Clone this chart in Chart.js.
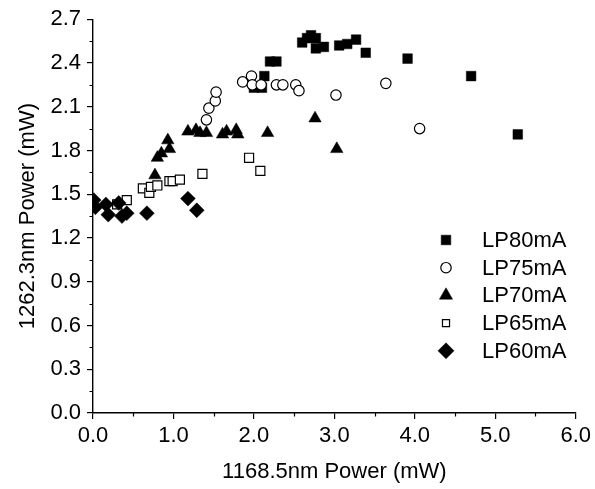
<!DOCTYPE html>
<html>
<head>
<meta charset="utf-8">
<script src="https://cdn.jsdelivr.net/npm/chart.js@4"></script>
<style>
  html, body { margin: 0; padding: 0; background: #fff; }
  #wrap { width: 595px; height: 489px; position: relative; }
</style>
</head>
<body>
<div id="wrap"><canvas id="c"></canvas></div>
<script>
// ── Data ─────────────────────────────────────────────────────
const seriesNames = ["LP80mA", "LP75mA", "LP70mA", "LP65mA", "LP60mA"];

const lp80X = [2.00, 2.10, 2.13, 2.20, 2.28, 2.60, 2.66, 2.71, 2.77, 2.77, 2.87, 3.06, 3.16, 3.27, 3.39, 3.91, 4.70, 5.28];
const lp80Y = [2.23, 2.23, 2.31, 2.41, 2.41, 2.54, 2.57, 2.59, 2.57, 2.50, 2.51, 2.52, 2.53, 2.56, 2.47, 2.43, 2.31, 1.91];

const lp75X = [1.41, 1.44, 1.52, 1.53, 1.86, 1.97, 1.98, 2.09, 2.28, 2.36, 2.52, 2.56, 3.02, 3.64, 4.06];
const lp75Y = [2.01, 2.09, 2.14, 2.20, 2.27, 2.31, 2.25, 2.25, 2.25, 2.25, 2.25, 2.21, 2.18, 2.26, 1.95];

const lp70X = [0.77, 0.80, 0.85, 0.93, 0.95, 1.18, 1.28, 1.33, 1.41, 1.61, 1.66, 1.78, 1.80, 2.17, 2.76, 3.03];
const lp70Y = [1.63, 1.75, 1.78, 1.87, 1.81, 1.93, 1.94, 1.92, 1.92, 1.91, 1.93, 1.94, 1.91, 1.92, 2.02, 1.81];

const lp65X = [0.30, 0.42, 0.62, 0.70, 0.72, 0.80, 0.95, 0.99, 1.08, 1.36, 1.94, 2.08];
const lp65Y = [1.43, 1.46, 1.54, 1.51, 1.55, 1.56, 1.59, 1.59, 1.60, 1.64, 1.75, 1.66];

const lp60X = [0.01, 0.03, 0.16, 0.19, 0.32, 0.36, 0.42, 0.67, 1.18, 1.29];
const lp60Y = [1.46, 1.41, 1.43, 1.36, 1.44, 1.35, 1.37, 1.37, 1.47, 1.39];

const xTicks = [0, 1, 2, 3, 4, 5, 6];
const yTicks = [0, 0.3, 0.6, 0.9, 1.2, 1.5, 1.8, 2.1, 2.4, 2.7];

const FONT = "'Liberation Sans', Arial, sans-serif";

const pairs = (xs, ys) => xs.map((x, i) => ({ x, y: ys[i] }));

// marker style per series: [pointStyle, radius, filled, legend radius]
const markers = [
  ["rect",     6.8, true,  6.8],
  ["circle",   5.2, false, 5.2],
  ["triangle", 7.2, true,  7.6],
  ["rect",     6.4, false, 5.0],
  ["rectRot",  7.4, true,  8.0],
];
const allData = [
  pairs(lp80X, lp80Y), pairs(lp75X, lp75Y), pairs(lp70X, lp70Y),
  pairs(lp65X, lp65Y), pairs(lp60X, lp60Y),
];

const datasets = seriesNames.map((name, i) => {
  const [style, r, filled] = markers[i];
  return {
    label: name,
    data: allData[i],
    pointStyle: style,
    pointRadius: r,
    pointHoverRadius: r,
    backgroundColor: filled ? "#000" : "#fff",
    borderColor: "#000",
    pointBorderWidth: filled ? 0.5 : 1.2,
    order: seriesNames.length - i,   // later series drawn on top
  };
});

// ── Minor ticks (half steps, shorter) ───────────────────────
const minorTicks = {
  id: "minorTicks",
  afterDraw(chart) {
    const { ctx, scales: { x, y } } = chart;
    ctx.save();
    ctx.strokeStyle = "#000";
    ctx.lineWidth = 1.2;
    ctx.beginPath();
    for (let i = 0; i < xTicks.length - 1; i++) {
      const px = Math.round(x.getPixelForValue((xTicks[i] + xTicks[i + 1]) / 2)) + 0.5;
      ctx.moveTo(px, y.bottom);
      ctx.lineTo(px, y.bottom + 3.5);
    }
    for (let i = 0; i < yTicks.length - 1; i++) {
      const py = Math.round(y.getPixelForValue((yTicks[i] + yTicks[i + 1]) / 2)) + 0.5;
      ctx.moveTo(x.left, py);
      ctx.lineTo(x.left - 3.5, py);
    }
    ctx.stroke();
    ctx.restore();
  },
};

// ── Legend inside the plot area ─────────────────────────────
const innerLegend = {
  id: "innerLegend",
  afterDraw(chart) {
    const { ctx } = chart;
    const mx = 446, tx = 482, y0 = 240, dy = 27.7;
    ctx.save();
    ctx.font = "22px " + FONT;
    ctx.textBaseline = "middle";
    seriesNames.forEach((name, i) => {
      const [style, , filled, lr] = markers[i];
      const cy = y0 + i * dy;
      ctx.fillStyle = filled ? "#000" : "#fff";
      ctx.strokeStyle = "#000";
      ctx.lineWidth = filled ? 0.5 : 1.2;
      Chart.helpers.drawPoint(ctx, { pointStyle: style, radius: lr, borderWidth: ctx.lineWidth, rotation: 0 }, mx, cy);
      ctx.fillStyle = "#000";
      ctx.fillText(name, tx, cy + 1);
    });
    ctx.restore();
  },
};

new Chart(document.getElementById("c"), {
  type: "scatter",
  data: { datasets },
  options: {
    responsive: true,
    maintainAspectRatio: false,
    animation: false,
    events: [],
    layout: { padding: { top: 17, right: 17, left: 0, bottom: 0 } },
    plugins: {
      legend: { display: false },
      tooltip: { enabled: false },
    },
    scales: {
      x: {
        type: "linear",
        min: 0, max: 6,
        afterFit: (s) => { s.height = 76; },
        afterBuildTicks: (s) => { s.ticks = xTicks.map((v) => ({ value: v })); },
        ticks: {
          color: "#000", padding: 4,
          font: { family: FONT, size: 22 },
          maxRotation: 0,
          callback: (v) => Number(v).toFixed(1),
        },
        grid: { display: true, drawOnChartArea: false, drawTicks: true, tickLength: 6, color: "#000", lineWidth: 1.2 },
        border: { display: true, color: "#000", width: 1.4 },
        title: {
          display: true, text: "1168.5nm Power (mW)", color: "#000",
          font: { family: FONT, size: 22 }, padding: { top: 0, bottom: 4 },
        },
      },
      y: {
        type: "linear",
        min: 0, max: 2.7,
        afterFit: (s) => { s.width = 93; },
        afterBuildTicks: (s) => { s.ticks = yTicks.map((v) => ({ value: v })); },
        ticks: {
          color: "#000", padding: 6,
          font: { family: FONT, size: 22 },
          callback: (v) => Number(v).toFixed(1),
        },
        grid: { display: true, drawOnChartArea: false, drawTicks: true, tickLength: 6, color: "#000", lineWidth: 1.2 },
        border: { display: true, color: "#000", width: 1.4 },
        title: {
          display: true, text: "1262.3nm Power (mW)", color: "#000",
          font: { family: FONT, size: 22 }, padding: { top: 15, bottom: 0 },
        },
      },
    },
  },
  plugins: [minorTicks, innerLegend],
});
</script>
</body>
</html>
